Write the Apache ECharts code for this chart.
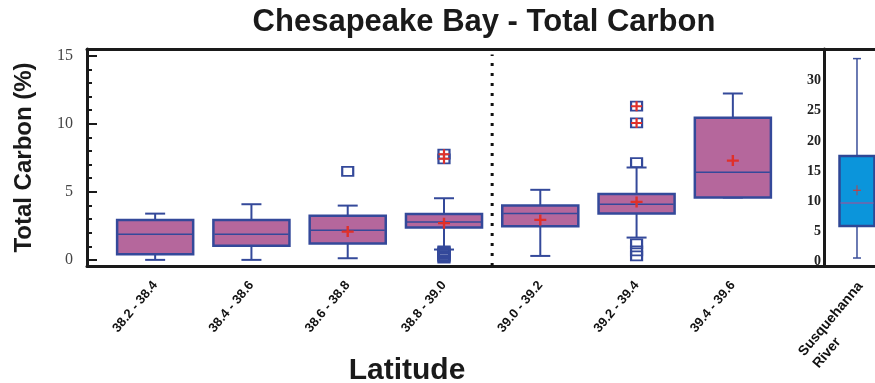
<!DOCTYPE html>
<html>
<head>
<meta charset="utf-8">
<script src="https://cdn.jsdelivr.net/npm/echarts@6/dist/echarts.min.js"></script>
<style>html,body{margin:0;padding:0;background:#fff;}#chart{width:875px;height:383px;}</style>
</head>
<body>
<div id="chart"></div>
<script>
// ---- Data ----
const categories = ['38.2 - 38.4', '38.4 - 38.6', '38.6 - 38.8', '38.8 - 39.0', '39.0 - 39.2', '39.2 - 39.4', '39.4 - 39.6'];
const whiskerLow  = [0.00, 0.00, 0.12, 0.76, 0.29, 1.64, 4.58];
const quartile1   = [0.42, 1.03, 1.20, 2.38, 2.47, 3.40, 4.58];
const medians     = [1.89, 1.89, 2.18, 2.79, 3.40, 4.09, 6.45];
const quartile3   = [2.94, 2.94, 3.24, 3.38, 3.99, 4.85, 10.44];
const whiskerHigh = [3.40, 4.09, 3.99, 4.53, 5.15, 6.79, 12.23];
const means       = [null, null, 2.08, 2.70, 2.94, 4.26, 7.30];
// outliers: [category index, value]
const outliers = [[2, 6.50], [3, 0.13], [3, 0.22], [3, 0.31], [3, 0.40], [3, 0.49], [3, 0.58], [3, 0.66],
                  [5, 7.15], [5, 1.18], [5, 0.66], [5, 0.29]];
const farOutliers = [[3, 7.77], [3, 7.43], [5, 11.30], [5, 10.07]];
const leftTicks = [0, 5, 10, 15];
const leftMinorTicks = [0,1,2,3,4,5,6,7,8,9,10,11,12,13,14,15];
const dividerPosition = 3.5;

const riverCategory = ['Susquehanna\nRiver'];
const riverBox = [0.5, 5.83, 9.67, 17.5, 33.7]; // low, Q1, median, Q3, high
const riverMean = 11.8;
const rightTicks = [0, 5, 10, 15, 20, 25, 30];

// ---- Axis ranges ----
const leftMin = -0.45, leftMax = 15.5;
const rightMin = -0.83, rightMax = 35.3;
const riverXMin = -0.5, riverXMax = 0.273;

const boxData = categories.map((c, i) => [i, whiskerLow[i], quartile1[i], medians[i], quartile3[i], whiskerHigh[i]]);
const meanData = means.map((m, i) => m == null ? null : [i, m]).filter(d => d);
const riverData = [[0].concat(riverBox)];

function boxRenderer(cfg) {
  return function (params, api) {
    const i = api.value(0);
    const pLo = api.coord([i, api.value(1)]);
    const pQ1 = api.coord([i, api.value(2)]);
    const pMd = api.coord([i, api.value(3)]);
    const pQ3 = api.coord([i, api.value(4)]);
    const pHi = api.coord([i, api.value(5)]);
    const cx = pQ1[0];
    const bw = api.size([1, 0])[0] * cfg.ratio;
    const half = bw / 2, cap = cfg.cap / 2;
    const ws = { stroke: cfg.whisker, lineWidth: cfg.whiskerWidth };
    const line = (x1, y1, x2, y2, style) => ({ type: 'line', shape: { x1, y1, x2, y2 }, style });
    return {
      type: 'group',
      children: [
        line(cx, pQ3[1], cx, pHi[1], ws),
        line(cx, pQ1[1], cx, pLo[1], ws),
        line(cx - cap, pHi[1], cx + cap, pHi[1], ws),
        line(cx - cap, pLo[1], cx + cap, pLo[1], ws),
        { type: 'rect', shape: { x: cx - half, y: pQ3[1], width: bw, height: pQ1[1] - pQ3[1] },
          style: { fill: cfg.fill, stroke: cfg.stroke, lineWidth: cfg.borderWidth } },
        line(cx - half + 1, pMd[1], cx + half - 1, pMd[1], { stroke: cfg.median, lineWidth: cfg.medianWidth })
      ]
    };
  };
}

const plusPath = 'path://M4,0h2v4h4v2h-4v4h-2v-4h-4v-2h4z';
const thinPlusPath = 'path://M4.5,0h1v4.5h4.5v1h-4.5v4.5h-1v-4.5h-4.5v-1h4.5z';
const axisColor = '#1a1a1a';
const sansBold = { fontFamily: 'Liberation Sans, Arial, sans-serif', fontWeight: 'bold' };

const chart = echarts.init(document.getElementById('chart'), null, { renderer: 'canvas' });
chart.setOption({
  animation: false,
  backgroundColor: '#ffffff',
  title: [
    { text: 'Chesapeake Bay - Total Carbon', left: 479, top: 2, textAlign: 'center',
      textStyle: Object.assign({ fontSize: 31, color: '#1a1a1a' }, sansBold) },
    { text: 'Latitude', left: 402, top: 351, textAlign: 'center',
      textStyle: Object.assign({ fontSize: 30, color: '#1a1a1a' }, sansBold) }
  ],
  grid: [
    { left: 107, right: 94, top: 49, bottom: 117, containLabel: false, outerBoundsMode: 'none' },
    { left: 824, right: 0, top: 49, bottom: 117, containLabel: false, outerBoundsMode: 'none' },
    { left: 87, right: 0, top: 49, bottom: 117, containLabel: false, outerBoundsMode: 'none' }
  ],
  xAxis: [
    { type: 'category', gridIndex: 0, data: categories, boundaryGap: true,
      axisLine: { show: false }, axisTick: { show: false }, splitLine: { show: false },
      axisLabel: Object.assign({ interval: 0, rotate: 50, margin: 17, color: '#111', fontSize: 13 }, sansBold) },
    { type: 'value', gridIndex: 0, min: -0.5, max: 6.5, position: 'top', show: false },
    { type: 'value', gridIndex: 1, min: riverXMin, max: riverXMax,
      axisLine: { show: false }, axisTick: { show: false }, splitLine: { show: false },
      axisLabel: { show: true, customValues: [0], rotate: 50, margin: 7, verticalAlign: 'top', color: '#111',
        fontFamily: 'Liberation Sans, Arial, sans-serif', fontWeight: 'bold', fontSize: 14,
        formatter: v => riverCategory[Math.round(v)].split('\n').map(s => '{a|' + s + '}').join('\n'),
        rich: { a: { width: 98, align: 'left', fontFamily: 'Liberation Sans, Arial, sans-serif', fontWeight: 'bold', fontSize: 14, color: '#111', lineHeight: 19 } } } },
    { type: 'value', gridIndex: 2, min: 0, max: 1, position: 'bottom',
      axisLine: { show: true, onZero: false, lineStyle: { color: axisColor, width: 3 } },
      axisTick: { show: false }, axisLabel: { show: false }, splitLine: { show: false } },
    { type: 'value', gridIndex: 2, min: 0, max: 1, position: 'top',
      axisLine: { show: true, onZero: false, lineStyle: { color: axisColor, width: 3 } },
      axisTick: { show: false }, axisLabel: { show: false }, splitLine: { show: false } }
  ],
  yAxis: [
    { type: 'value', gridIndex: 0, min: leftMin, max: leftMax, position: 'left', offset: 20,
      name: 'Total Carbon (%)', nameLocation: 'middle', nameRotate: 90, nameGap: 51,
      nameTextStyle: Object.assign({ fontSize: 24, color: '#1a1a1a' }, sansBold),
      axisLine: { show: true, onZero: false, lineStyle: { color: axisColor, width: 3 } },
      axisTick: { show: true, inside: true, length: 10, customValues: leftTicks, lineStyle: { color: axisColor, width: 2 } },
      axisLabel: { show: true, customValues: leftTicks, margin: 14, color: '#444',
        fontFamily: 'Liberation Serif, Times New Roman, serif', fontSize: 16 },
      splitLine: { show: false } },
    { type: 'value', gridIndex: 0, min: leftMin, max: leftMax, position: 'left', offset: 20,
      axisLine: { show: false, onZero: false },
      axisTick: { show: true, inside: true, length: 5, customValues: leftMinorTicks, lineStyle: { color: axisColor, width: 2 } },
      axisLabel: { show: false }, splitLine: { show: false } },
    { type: 'value', gridIndex: 1, min: rightMin, max: rightMax, position: 'left',
      axisLine: { show: true, onZero: false, lineStyle: { color: axisColor, width: 3 } },
      axisTick: { show: false },
      axisLabel: { show: true, customValues: rightTicks, margin: 3, color: '#222',
        fontFamily: 'Liberation Serif, Times New Roman, serif', fontWeight: 'bold', fontSize: 14 },
      splitLine: { show: false } },
    { type: 'value', gridIndex: 2, min: 0, max: 1, show: false }
  ],
  series: [
    { type: 'line', xAxisIndex: 1, yAxisIndex: 0, symbol: 'none', silent: true,
      data: [[dividerPosition, leftMin], [dividerPosition, leftMax - 0.4]],
      lineStyle: { color: '#111', width: 3, type: [3, 7] }, z: 1 },
    { type: 'custom', xAxisIndex: 0, yAxisIndex: 0, data: boxData,
      encode: { x: 0, y: [1, 2, 3, 4, 5] },
      renderItem: boxRenderer({ ratio: 0.79, cap: 20, fill: '#B5679C', stroke: '#34499A', borderWidth: 2.5,
        whisker: '#34499A', whiskerWidth: 2, median: '#34499A', medianWidth: 1.5 }), z: 2 },
    { type: 'scatter', xAxisIndex: 0, yAxisIndex: 0, data: outliers.concat(farOutliers),
      symbol: 'rect', symbolSize: [11, 9],
      itemStyle: { color: 'rgba(0,0,0,0)', borderColor: '#34499A', borderWidth: 2, opacity: 1 }, z: 3 },
    { type: 'scatter', xAxisIndex: 0, yAxisIndex: 0, data: farOutliers,
      symbol: plusPath, symbolSize: [11, 10], itemStyle: { color: '#E0302A', opacity: 1 }, z: 4 },
    { type: 'scatter', xAxisIndex: 0, yAxisIndex: 0, data: meanData,
      symbol: plusPath, symbolSize: [12, 11], itemStyle: { color: '#E0302A', opacity: 1 }, z: 4 },
    { type: 'custom', xAxisIndex: 2, yAxisIndex: 2, data: riverData,
      encode: { x: 0, y: [1, 2, 3, 4, 5] },
      renderItem: boxRenderer({ ratio: 0.53, cap: 8, fill: '#0B95DB', stroke: '#2F4795', borderWidth: 2.5,
        whisker: '#3B4F9A', whiskerWidth: 1.5, median: '#7B62A8', medianWidth: 1.5 }), z: 2 },
    { type: 'scatter', xAxisIndex: 2, yAxisIndex: 2, data: [[0, riverMean]],
      symbol: thinPlusPath, symbolSize: [8, 10], itemStyle: { color: '#E0302A', opacity: 1 }, z: 4 }
  ]
});
</script>
</body>
</html>
